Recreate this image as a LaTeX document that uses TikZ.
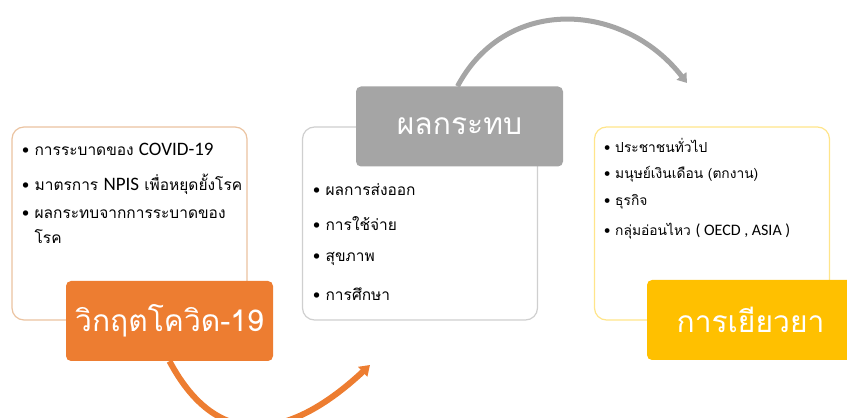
\documentclass[tikz,border=0pt]{standalone}
\usepackage{fontspec}
\setmainfont{Carlito}
\newfontfamily\thai[Script=Thai]{Loma}
\usetikzlibrary{arrows.meta, positioning}

\definecolor{covidorange}{HTML}{ED7D31}
\definecolor{impactgray}{HTML}{A5A5A5}
\definecolor{reliefyellow}{HTML}{FFC000}
\definecolor{covidline}{HTML}{EBC3A0}
\definecolor{impactline}{HTML}{CFCFCF}
\definecolor{reliefline}{HTML}{FFE58A}

\newcommand\lat[1]{{\rmfamily\fontsize{19}{22}\selectfont #1}}
\newcommand\slat[1]{{\rmfamily\fontsize{16}{19}\selectfont #1}}

\tikzset{
  panel/.style = {draw=#1, line width=1.2pt, fill=white, rounded corners=12pt,
                  minimum width=235pt, minimum height=193pt},
  tag/.style   = {fill=#1, rounded corners=5pt, minimum width=207pt, minimum height=80pt,
                  text=white, font=\thai\fontsize{30}{36}\selectfont},
  item/.style  = {anchor=west, inner sep=0pt, align=left, font=\thai\fontsize{15.5}{25}\selectfont},
  small item/.style = {item, font=\thai\fontsize{13.8}{17}\selectfont},
}

\begin{document}
\begin{tikzpicture}[x=1pt, y=1pt]
    \useasboundingbox (0,0) rectangle (847,418);

    % panels
    \node (covidbox)  [panel=covidline]  at (129.5,194.5) {};
    \node (impactbox) [panel=impactline] at (420,194.5) {};
    \node (reliefbox) [panel=reliefline] at (712,194.5) {};

    % tags
    \node (covid)  [tag=covidorange]  at (169.5,97)  {วิกฤตโควิด-19};
    \node (impact) [tag=impactgray]   at (459.5,291.5) {ผลกระทบ};
    \node (relief) [tag=reliefyellow] at (750.5,98)  {การเยียวยา};

    % items of the first panel
    \node (c1) [item] at (22,269) {\textbullet\ การระบาดของ \lat{COVID-19}};
    \node (c2) [item] at (22,234) {\textbullet\ มาตรการ \lat{NPIS} เพื่อหยุดยั้งโรค};
    \node (c3) [item, anchor=north west] at (22,208) {\textbullet\ ผลกระทบจากการระบาดของ\\\hphantom{\textbullet\ }โรค};

    % items of the second panel
    \node (i1) [item] at (313,228) {\textbullet\ ผลการส่งออก};
    \node (i2) [item] at (313,194) {\textbullet\ การใช้จ่าย};
    \node (i3) [item] at (313,159) {\textbullet\ สุขภาพ};
    \node (i4) [item] at (313,124) {\textbullet\ การศึกษา};

    % items of the third panel
    \node (r1) [small item] at (604,273) {\textbullet\ ประชาชนทั่วไป};
    \node (r2) [small item] at (604,244) {\textbullet\ มนุษย์เงินเดือน (ตกงาน)};
    \node (r3) [small item] at (604,216) {\textbullet\ ธุรกิจ};
    \node (r4) [small item] at (604,187) {\textbullet\ กลุ่มอ่อนไหว \slat{( OECD , ASIA )}};

    % arrows
    \coordinate (orangeend) at (370,53);
    \coordinate (grayend)   at (687,335);
    \draw [-{Triangle[length=10pt, width=13pt]}, line width=6pt, covidorange]
        (covid.south) to [out=-62, in=-137, looseness=1.35] (orangeend);
    \draw [-{Triangle[length=9pt, width=12pt]}, line width=5pt, impactgray]
        ([xshift=-2pt]impact.north) to [out=62, in=128, looseness=1.15] (grayend);
\end{tikzpicture}
\end{document}
